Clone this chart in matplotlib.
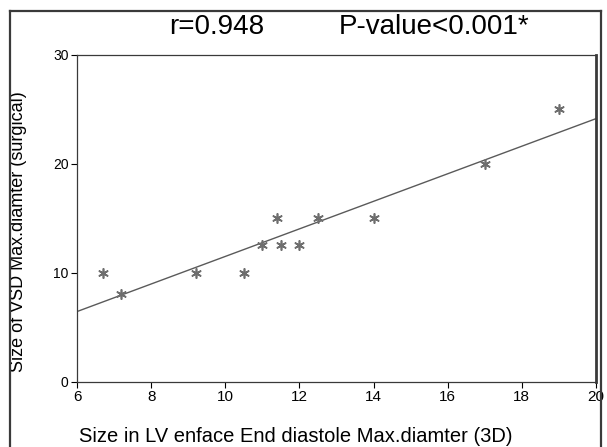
import numpy as np
import matplotlib
matplotlib.use('Agg')
import matplotlib.pyplot as plt
from matplotlib.lines import Line2D

# --- data ---
lv_enface = [6.7, 7.2, 9.2, 10.5, 11.0, 11.4, 11.5, 12.0, 12.5, 14.0, 17.0, 19.0]
vsd_surgical = [10, 8, 10, 10, 12.5, 15, 12.5, 12.5, 15, 15, 20, 25]
x_ticks = [6, 8, 10, 12, 14, 16, 18, 20]
y_ticks = [0, 10, 20, 30]

plt.rcParams['font.family'] = ['Liberation Sans', 'DejaVu Sans']

W, H = 607, 447
fig = plt.figure(figsize=(W / 100, H / 100), dpi=100)
ax = fig.add_axes([77 / W, 1 - 381.5 / H, (596 - 77) / W, (381.5 - 54.5) / H])

# outer frame (bottom cut off in the reference)
frame_kw = dict(color='#3a3a3a', lw=1.6, transform=fig.transFigure)
fig.add_artist(Line2D([9.5 / W, 9.5 / W], [0, 1 - 10.5 / H], **frame_kw))
fig.add_artist(Line2D([9.5 / W, 601 / W], [1 - 10.5 / H, 1 - 10.5 / H], **frame_kw))
fig.add_artist(Line2D([601 / W, 601 / W], [0, 1 - 10.5 / H], **frame_kw))

# regression line
slope, icpt = np.polyfit(lv_enface, vsd_surgical, 1)
xs = np.array([6, 20])
ax.plot(xs, slope * xs + icpt, color='#5a5a5a', lw=1.0)

ax.scatter(lv_enface, vsd_surgical, marker=(6, 2, 0), s=45,
           color='#6e6e6e', linewidths=1.2, zorder=3)

ax.set_xlim(6, 20)
ax.set_ylim(0, 30)
ax.set_xticks(x_ticks)
ax.set_yticks(y_ticks)
ax.tick_params(axis='x', labelsize=11, length=4, width=0.8, direction='out', pad=2)
ax.tick_params(axis='y', labelsize=10, length=4, width=0.8, direction='out', pad=2)
for s in ax.spines.values():
    s.set_color('#3a3a3a')
    s.set_linewidth(0.9)
ax.spines['right'].set_linewidth(2.0)

ax.set_ylabel('Size of VSD Max.diamter (surgical)', fontsize=13)
ax.yaxis.set_label_coords((27 - 77) / (596 - 77), (381.5 - 232) / (381.5 - 54.5))

fig.text(296 / W, 1 - 437 / H, 'Size in LV enface End diastole Max.diamter (3D)',
         fontsize=14.5, ha='center', va='center')

fig.text(217 / W, 1 - 27 / H, 'r=0.948', fontsize=20, ha='center', va='center')
fig.text(434 / W, 1 - 27 / H, 'P-value<0.001*', fontsize=20, ha='center', va='center')

fig.savefig('out.png', dpi=100)
